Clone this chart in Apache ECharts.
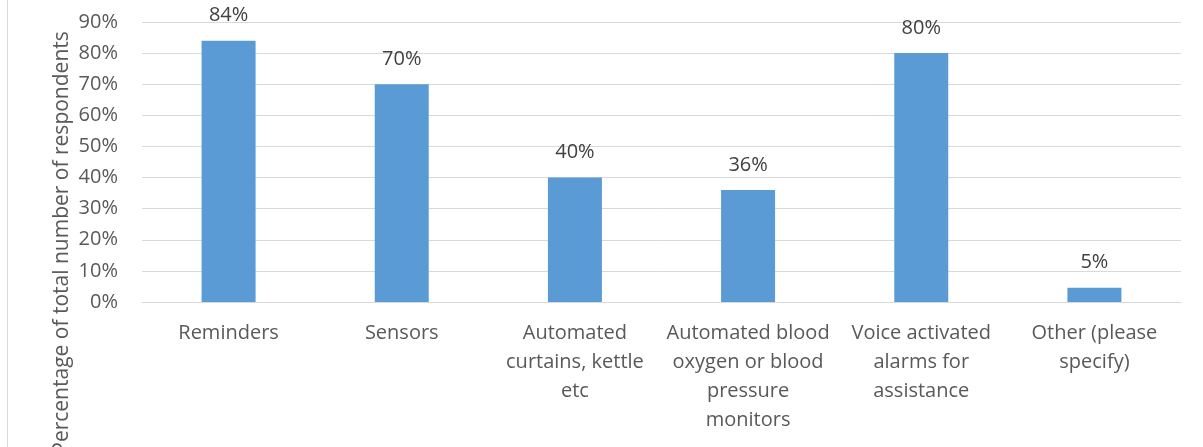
<!DOCTYPE html>
<html>
<head>
<meta charset="utf-8">
<script src="https://cdn.jsdelivr.net/npm/echarts@6/dist/echarts.min.js"></script>
<style>
html,body{margin:0;padding:0;background:#fff;}
#chart{width:1203px;height:447px;}
</style>
</head>
<body>
<div id="chart"></div>
<script>
var categories = [
  "Reminders",
  "Sensors",
  "Automated\ncurtains, kettle\netc",
  "Automated blood\noxygen or blood\npressure\nmonitors",
  "Voice activated\nalarms for\nassistance",
  "Other (please\nspecify)"
];
var percentValues = [84, 70, 40, 36, 80, 4.6];
var yTickStep = 10;
var yMax = 90;
var yAxisTitle = "Percentage of total number of respondents";

var fontFam = "'Open Sans', sans-serif";
var chart = echarts.init(document.getElementById('chart'), null, {renderer: 'canvas'});
chart.setOption({
  animation: false,
  backgroundColor: '#ffffff',
  grid: {left: 142, right: 22, top: 22, bottom: 145, containLabel: false},
  xAxis: {
    type: 'category',
    data: categories,
    axisLine: {show: true, lineStyle: {color: '#D9D9D9', width: 1}},
    axisTick: {show: false},
    axisLabel: {interval: 0, color: '#595959', fontFamily: fontFam, fontSize: 20, lineHeight: 29, margin: 17}
  },
  yAxis: {
    type: 'value',
    min: 0, max: yMax, interval: yTickStep,
    axisLine: {show: false},
    axisTick: {show: false},
    splitLine: {show: true, lineStyle: {color: '#D9D9D9', width: 1}},
    axisLabel: {color: '#595959', fontFamily: fontFam, fontSize: 20, margin: 24,
      formatter: function(v){ return v + '%'; }}
  },
  series: [{
    type: 'bar',
    data: percentValues,
    barWidth: 54,
    itemStyle: {color: '#5B9BD5'},
    label: {show: true, position: 'top', distance: 15, color: '#404040', fontFamily: fontFam, fontSize: 20,
      formatter: function(p){ return Math.round(p.value) + '%'; }}
  }],
  graphic: [
    {type: 'line', shape: {x1: 7.5, y1: 0, x2: 7.5, y2: 447}, style: {stroke: '#D9D9D9', lineWidth: 1}},
    {type: 'text', x: 62, y: 243, rotation: Math.PI/2,
      style: {text: yAxisTitle, fill: '#595959', font: "21px 'Open Sans', sans-serif", textAlign: 'center', textVerticalAlign: 'middle'}}
  ]
});
</script>
</body>
</html>
